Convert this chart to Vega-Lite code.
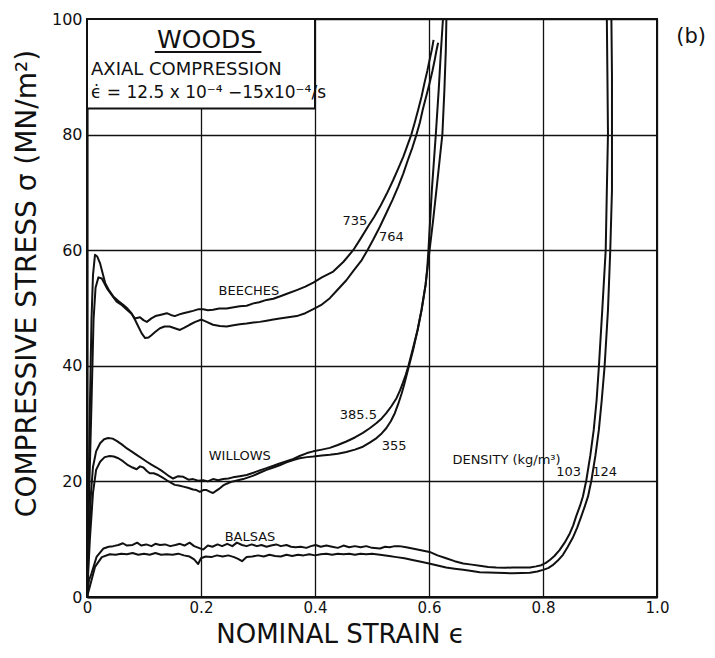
{
 "$schema": "https://vega.github.io/schema/vega-lite/v6.json",
 "width": 570, "height": 578,
 "autosize": "none",
 "padding": {"left": 87, "top": 19, "right": 58, "bottom": 61},
 "background": "white",
 "config": {"view": {"stroke": "#111", "strokeWidth": 2}, "font": "DejaVu Sans"},
 "datasets": {
  "curves": [
   {"s":"b735","x":0,"y":0},{"s":"b735","x":0.0035,"y":16.8},{"s":"b735","x":0.008,"y":34},{"s":"b735","x":0.0115,"y":48},{"s":"b735","x":0.015,"y":53.5},{"s":"b735","x":0.02,"y":55.3},{"s":"b735","x":0.026,"y":55.1},{"s":"b735","x":0.035,"y":53.4},{"s":"b735","x":0.043,"y":52.3},{"s":"b735","x":0.052,"y":51.1},{"s":"b735","x":0.06,"y":50.6},{"s":"b735","x":0.07,"y":49.7},{"s":"b735","x":0.078,"y":49.0},{"s":"b735","x":0.084,"y":48.2},{"s":"b735","x":0.093,"y":48.4},{"s":"b735","x":0.099,"y":47.9},{"s":"b735","x":0.105,"y":47.6},{"s":"b735","x":0.113,"y":48.2},{"s":"b735","x":0.12,"y":48.6},{"s":"b735","x":0.128,"y":48.8},{"s":"b735","x":0.14,"y":49.1},{"s":"b735","x":0.147,"y":48.8},{"s":"b735","x":0.154,"y":48.6},{"s":"b735","x":0.162,"y":48.9},{"s":"b735","x":0.169,"y":49.1},{"s":"b735","x":0.178,"y":49.3},{"s":"b735","x":0.186,"y":49.5},{"s":"b735","x":0.196,"y":49.8},{"s":"b735","x":0.204,"y":49.8},{"s":"b735","x":0.212,"y":49.6},{"s":"b735","x":0.221,"y":49.7},{"s":"b735","x":0.232,"y":49.9},{"s":"b735","x":0.245,"y":49.9},{"s":"b735","x":0.255,"y":50.1},{"s":"b735","x":0.268,"y":50.3},{"s":"b735","x":0.28,"y":50.4},{"s":"b735","x":0.292,"y":50.8},{"s":"b735","x":0.302,"y":51.0},{"s":"b735","x":0.315,"y":51.4},{"s":"b735","x":0.327,"y":51.6},{"s":"b735","x":0.338,"y":52},{"s":"b735","x":0.352,"y":52.5},{"s":"b735","x":0.368,"y":53.1},{"s":"b735","x":0.383,"y":53.7},{"s":"b735","x":0.397,"y":54.4},{"s":"b735","x":0.412,"y":55.3},{"s":"b735","x":0.432,"y":56.3},{"s":"b735","x":0.45,"y":58},{"s":"b735","x":0.467,"y":60},{"s":"b735","x":0.48,"y":62},{"s":"b735","x":0.493,"y":64.1},{"s":"b735","x":0.504,"y":65.8},{"s":"b735","x":0.514,"y":67.5},{"s":"b735","x":0.526,"y":69.8},{"s":"b735","x":0.537,"y":72.1},{"s":"b735","x":0.546,"y":74.1},{"s":"b735","x":0.555,"y":76.2},{"s":"b735","x":0.562,"y":78.1},{"s":"b735","x":0.569,"y":80},{"s":"b735","x":0.575,"y":82.1},{"s":"b735","x":0.581,"y":84.3},{"s":"b735","x":0.587,"y":86.6},{"s":"b735","x":0.592,"y":88.9},{"s":"b735","x":0.597,"y":91},{"s":"b735","x":0.601,"y":92.9},{"s":"b735","x":0.605,"y":94.7},{"s":"b735","x":0.608,"y":96.4},

   {"s":"b764","x":0,"y":0},{"s":"b764","x":0.0026,"y":16.8},{"s":"b764","x":0.0053,"y":34.1},{"s":"b764","x":0.0079,"y":48},{"s":"b764","x":0.0105,"y":55.7},{"s":"b764","x":0.014,"y":59.2},{"s":"b764","x":0.018,"y":58.9},{"s":"b764","x":0.023,"y":57.7},{"s":"b764","x":0.028,"y":55.8},{"s":"b764","x":0.032,"y":54.3},{"s":"b764","x":0.039,"y":53.0},{"s":"b764","x":0.046,"y":52},{"s":"b764","x":0.055,"y":51.2},{"s":"b764","x":0.064,"y":50.5},{"s":"b764","x":0.071,"y":49.9},{"s":"b764","x":0.078,"y":49.1},{"s":"b764","x":0.084,"y":48.0},{"s":"b764","x":0.09,"y":46.8},{"s":"b764","x":0.096,"y":45.6},{"s":"b764","x":0.102,"y":44.8},{"s":"b764","x":0.108,"y":44.9},{"s":"b764","x":0.113,"y":45.3},{"s":"b764","x":0.12,"y":45.9},{"s":"b764","x":0.128,"y":46.5},{"s":"b764","x":0.136,"y":46.8},{"s":"b764","x":0.145,"y":46.8},{"s":"b764","x":0.154,"y":46.5},{"s":"b764","x":0.163,"y":46.2},{"s":"b764","x":0.171,"y":46.6},{"s":"b764","x":0.18,"y":47.1},{"s":"b764","x":0.19,"y":47.6},{"s":"b764","x":0.201,"y":48.0},{"s":"b764","x":0.21,"y":47.6},{"s":"b764","x":0.221,"y":47.1},{"s":"b764","x":0.233,"y":46.9},{"s":"b764","x":0.245,"y":46.8},{"s":"b764","x":0.257,"y":47.0},{"s":"b764","x":0.268,"y":47.2},{"s":"b764","x":0.28,"y":47.3},{"s":"b764","x":0.292,"y":47.5},{"s":"b764","x":0.303,"y":47.6},{"s":"b764","x":0.315,"y":47.8},{"s":"b764","x":0.327,"y":48.0},{"s":"b764","x":0.338,"y":48.2},{"s":"b764","x":0.353,"y":48.4},{"s":"b764","x":0.368,"y":48.6},{"s":"b764","x":0.383,"y":49.1},{"s":"b764","x":0.397,"y":49.8},{"s":"b764","x":0.412,"y":50.6},{"s":"b764","x":0.426,"y":51.7},{"s":"b764","x":0.44,"y":53.2},{"s":"b764","x":0.455,"y":54.8},{"s":"b764","x":0.468,"y":56.5},{"s":"b764","x":0.482,"y":58.3},{"s":"b764","x":0.492,"y":60},{"s":"b764","x":0.502,"y":61.8},{"s":"b764","x":0.514,"y":64.1},{"s":"b764","x":0.525,"y":66.4},{"s":"b764","x":0.536,"y":68.7},{"s":"b764","x":0.546,"y":71.0},{"s":"b764","x":0.555,"y":73.3},{"s":"b764","x":0.563,"y":75.6},{"s":"b764","x":0.571,"y":77.8},{"s":"b764","x":0.578,"y":80},{"s":"b764","x":0.584,"y":82.1},{"s":"b764","x":0.589,"y":84.3},{"s":"b764","x":0.595,"y":86.6},{"s":"b764","x":0.601,"y":88.9},{"s":"b764","x":0.606,"y":91},{"s":"b764","x":0.61,"y":92.9},{"s":"b764","x":0.613,"y":94.5},{"s":"b764","x":0.616,"y":95.9},

   {"s":"w385","x":0,"y":0},{"s":"w385","x":0.0035,"y":9.9},{"s":"w385","x":0.007,"y":18},{"s":"w385","x":0.0105,"y":22.5},{"s":"w385","x":0.016,"y":25.2},{"s":"w385","x":0.023,"y":26.6},{"s":"w385","x":0.03,"y":27.3},{"s":"w385","x":0.037,"y":27.5},{"s":"w385","x":0.045,"y":27.4},{"s":"w385","x":0.052,"y":27.0},{"s":"w385","x":0.061,"y":26.4},{"s":"w385","x":0.07,"y":25.7},{"s":"w385","x":0.078,"y":25.2},{"s":"w385","x":0.087,"y":24.6},{"s":"w385","x":0.096,"y":24.0},{"s":"w385","x":0.105,"y":23.4},{"s":"w385","x":0.113,"y":22.9},{"s":"w385","x":0.122,"y":22.4},{"s":"w385","x":0.13,"y":21.9},{"s":"w385","x":0.137,"y":21.4},{"s":"w385","x":0.144,"y":20.9},{"s":"w385","x":0.151,"y":20.5},{"s":"w385","x":0.16,"y":20.9},{"s":"w385","x":0.169,"y":20.8},{"s":"w385","x":0.178,"y":20.3},{"s":"w385","x":0.186,"y":20.4},{"s":"w385","x":0.195,"y":20.1},{"s":"w385","x":0.204,"y":20.2},{"s":"w385","x":0.212,"y":20.0},{"s":"w385","x":0.221,"y":20.4},{"s":"w385","x":0.23,"y":20.2},{"s":"w385","x":0.239,"y":20.4},{"s":"w385","x":0.248,"y":20.5},{"s":"w385","x":0.256,"y":20.7},{"s":"w385","x":0.268,"y":20.9},{"s":"w385","x":0.28,"y":21.1},{"s":"w385","x":0.292,"y":21.5},{"s":"w385","x":0.303,"y":21.9},{"s":"w385","x":0.315,"y":22.3},{"s":"w385","x":0.327,"y":22.7},{"s":"w385","x":0.338,"y":23.1},{"s":"w385","x":0.35,"y":23.5},{"s":"w385","x":0.362,"y":23.9},{"s":"w385","x":0.373,"y":24.4},{"s":"w385","x":0.386,"y":24.9},{"s":"w385","x":0.397,"y":25.2},{"s":"w385","x":0.412,"y":25.5},{"s":"w385","x":0.426,"y":25.8},{"s":"w385","x":0.44,"y":26.3},{"s":"w385","x":0.455,"y":26.9},{"s":"w385","x":0.47,"y":27.6},{"s":"w385","x":0.484,"y":28.4},{"s":"w385","x":0.496,"y":29.2},{"s":"w385","x":0.508,"y":30.1},{"s":"w385","x":0.517,"y":30.9},{"s":"w385","x":0.525,"y":31.8},{"s":"w385","x":0.534,"y":33},{"s":"w385","x":0.543,"y":34.4},{"s":"w385","x":0.549,"y":35.7},{"s":"w385","x":0.554,"y":37},{"s":"w385","x":0.559,"y":38.4},{"s":"w385","x":0.564,"y":40.0},{"s":"w385","x":0.571,"y":42.7},{"s":"w385","x":0.58,"y":46.2},{"s":"w385","x":0.587,"y":49.7},{"s":"w385","x":0.594,"y":54},{"s":"w385","x":0.597,"y":57},{"s":"w385","x":0.599,"y":60},{"s":"w385","x":0.605,"y":70.4},{"s":"w385","x":0.612,"y":80.1},{"s":"w385","x":0.617,"y":87.7},{"s":"w385","x":0.621,"y":94.6},{"s":"w385","x":0.6245,"y":100},

   {"s":"w355","x":0,"y":0},{"s":"w355","x":0.005,"y":9.9},{"s":"w355","x":0.0105,"y":18},{"s":"w355","x":0.016,"y":22},{"s":"w355","x":0.023,"y":23.4},{"s":"w355","x":0.031,"y":24.2},{"s":"w355","x":0.04,"y":24.4},{"s":"w355","x":0.047,"y":24.3},{"s":"w355","x":0.055,"y":24.0},{"s":"w355","x":0.063,"y":23.5},{"s":"w355","x":0.072,"y":22.8},{"s":"w355","x":0.08,"y":22.4},{"s":"w355","x":0.087,"y":22.1},{"s":"w355","x":0.093,"y":22.6},{"s":"w355","x":0.099,"y":22.4},{"s":"w355","x":0.105,"y":21.8},{"s":"w355","x":0.11,"y":21.4},{"s":"w355","x":0.117,"y":21.4},{"s":"w355","x":0.125,"y":21.1},{"s":"w355","x":0.132,"y":20.7},{"s":"w355","x":0.14,"y":20.2},{"s":"w355","x":0.147,"y":19.8},{"s":"w355","x":0.154,"y":19.4},{"s":"w355","x":0.161,"y":19.3},{"s":"w355","x":0.169,"y":19.1},{"s":"w355","x":0.177,"y":18.9},{"s":"w355","x":0.186,"y":18.6},{"s":"w355","x":0.192,"y":18.5},{"s":"w355","x":0.198,"y":18.2},{"s":"w355","x":0.204,"y":18.5},{"s":"w355","x":0.21,"y":18.5},{"s":"w355","x":0.216,"y":18.2},{"s":"w355","x":0.221,"y":18.0},{"s":"w355","x":0.227,"y":18.4},{"s":"w355","x":0.233,"y":18.8},{"s":"w355","x":0.239,"y":19.3},{"s":"w355","x":0.245,"y":19.6},{"s":"w355","x":0.25,"y":19.8},{"s":"w355","x":0.256,"y":20.0},{"s":"w355","x":0.265,"y":20.2},{"s":"w355","x":0.274,"y":20.4},{"s":"w355","x":0.283,"y":20.7},{"s":"w355","x":0.292,"y":21.0},{"s":"w355","x":0.303,"y":21.5},{"s":"w355","x":0.315,"y":22.0},{"s":"w355","x":0.327,"y":22.4},{"s":"w355","x":0.338,"y":22.8},{"s":"w355","x":0.35,"y":23.3},{"s":"w355","x":0.362,"y":23.7},{"s":"w355","x":0.373,"y":24.0},{"s":"w355","x":0.386,"y":24.2},{"s":"w355","x":0.397,"y":24.3},{"s":"w355","x":0.412,"y":24.5},{"s":"w355","x":0.426,"y":24.6},{"s":"w355","x":0.44,"y":24.8},{"s":"w355","x":0.455,"y":25.1},{"s":"w355","x":0.47,"y":25.5},{"s":"w355","x":0.484,"y":26.0},{"s":"w355","x":0.496,"y":26.7},{"s":"w355","x":0.508,"y":27.5},{"s":"w355","x":0.517,"y":28.3},{"s":"w355","x":0.525,"y":29.2},{"s":"w355","x":0.533,"y":30.4},{"s":"w355","x":0.54,"y":31.8},{"s":"w355","x":0.546,"y":33.4},{"s":"w355","x":0.552,"y":35.2},{"s":"w355","x":0.556,"y":36.6},{"s":"w355","x":0.56,"y":38.1},{"s":"w355","x":0.566,"y":40.4},{"s":"w355","x":0.572,"y":42.7},{"s":"w355","x":0.58,"y":46.2},{"s":"w355","x":0.587,"y":49.7},{"s":"w355","x":0.594,"y":54},{"s":"w355","x":0.601,"y":60},{"s":"w355","x":0.607,"y":65},{"s":"w355","x":0.613,"y":70.4},{"s":"w355","x":0.618,"y":75},{"s":"w355","x":0.6235,"y":80.1},{"s":"w355","x":0.627,"y":87.7},{"s":"w355","x":0.6295,"y":94.6},{"s":"w355","x":0.6305,"y":100},

   {"s":"a103","x":0,"y":0},{"s":"a103","x":0.0035,"y":2.9},{"s":"a103","x":0.008,"y":4.1},{"s":"a103","x":0.017,"y":7.0},{"s":"a103","x":0.029,"y":8.4},{"s":"a103","x":0.038,"y":8.7},{"s":"a103","x":0.046,"y":8.8},{"s":"a103","x":0.055,"y":9.0},{"s":"a103","x":0.063,"y":9.3},{"s":"a103","x":0.07,"y":8.9},{"s":"a103","x":0.08,"y":9.0},{"s":"a103","x":0.088,"y":9.4},{"s":"a103","x":0.095,"y":8.9},{"s":"a103","x":0.104,"y":9.1},{"s":"a103","x":0.113,"y":8.8},{"s":"a103","x":0.12,"y":9.2},{"s":"a103","x":0.128,"y":9.0},{"s":"a103","x":0.137,"y":9.1},{"s":"a103","x":0.146,"y":8.8},{"s":"a103","x":0.155,"y":9.0},{"s":"a103","x":0.163,"y":9.2},{"s":"a103","x":0.171,"y":8.9},{"s":"a103","x":0.18,"y":9.4},{"s":"a103","x":0.188,"y":8.8},{"s":"a103","x":0.196,"y":8.5},{"s":"a103","x":0.204,"y":8.2},{"s":"a103","x":0.212,"y":8.9},{"s":"a103","x":0.22,"y":8.7},{"s":"a103","x":0.229,"y":9.1},{"s":"a103","x":0.237,"y":8.8},{"s":"a103","x":0.246,"y":9.2},{"s":"a103","x":0.255,"y":8.8},{"s":"a103","x":0.263,"y":9.4},{"s":"a103","x":0.272,"y":9.0},{"s":"a103","x":0.28,"y":8.8},{"s":"a103","x":0.289,"y":9.1},{"s":"a103","x":0.298,"y":8.8},{"s":"a103","x":0.306,"y":9.0},{"s":"a103","x":0.315,"y":8.7},{"s":"a103","x":0.323,"y":8.9},{"s":"a103","x":0.332,"y":9.1},{"s":"a103","x":0.34,"y":8.8},{"s":"a103","x":0.35,"y":9.0},{"s":"a103","x":0.358,"y":8.7},{"s":"a103","x":0.366,"y":8.6},{"s":"a103","x":0.375,"y":8.7},{"s":"a103","x":0.385,"y":8.5},{"s":"a103","x":0.393,"y":8.8},{"s":"a103","x":0.401,"y":9.0},{"s":"a103","x":0.41,"y":8.7},{"s":"a103","x":0.42,"y":8.9},{"s":"a103","x":0.43,"y":8.7},{"s":"a103","x":0.44,"y":8.5},{"s":"a103","x":0.45,"y":8.9},{"s":"a103","x":0.46,"y":8.6},{"s":"a103","x":0.47,"y":8.8},{"s":"a103","x":0.48,"y":8.6},{"s":"a103","x":0.49,"y":8.8},{"s":"a103","x":0.5,"y":8.5},{"s":"a103","x":0.514,"y":8.4},{"s":"a103","x":0.523,"y":8.7},{"s":"a103","x":0.531,"y":8.6},{"s":"a103","x":0.54,"y":8.8},{"s":"a103","x":0.548,"y":8.8},{"s":"a103","x":0.56,"y":8.6},{"s":"a103","x":0.571,"y":8.4},{"s":"a103","x":0.586,"y":8.1},{"s":"a103","x":0.601,"y":7.8},{"s":"a103","x":0.615,"y":7.2},{"s":"a103","x":0.63,"y":6.7},{"s":"a103","x":0.645,"y":6.2},{"s":"a103","x":0.66,"y":5.8},{"s":"a103","x":0.675,"y":5.6},{"s":"a103","x":0.689,"y":5.4},{"s":"a103","x":0.704,"y":5.2},{"s":"a103","x":0.718,"y":5.1},{"s":"a103","x":0.733,"y":5.05},{"s":"a103","x":0.747,"y":5.1},{"s":"a103","x":0.762,"y":5.1},{"s":"a103","x":0.777,"y":5.1},{"s":"a103","x":0.788,"y":5.3},{"s":"a103","x":0.797,"y":5.5},{"s":"a103","x":0.805,"y":5.9},{"s":"a103","x":0.812,"y":6.4},{"s":"a103","x":0.82,"y":7.1},{"s":"a103","x":0.829,"y":8.1},{"s":"a103","x":0.838,"y":9.4},{"s":"a103","x":0.847,"y":11},{"s":"a103","x":0.853,"y":12.4},{"s":"a103","x":0.858,"y":13.9},{"s":"a103","x":0.865,"y":15.8},{"s":"a103","x":0.87,"y":17.4},{"s":"a103","x":0.876,"y":20.2},{"s":"a103","x":0.883,"y":24.5},{"s":"a103","x":0.889,"y":28.9},{"s":"a103","x":0.894,"y":34},{"s":"a103","x":0.898,"y":39.8},{"s":"a103","x":0.904,"y":49.7},{"s":"a103","x":0.91,"y":60},{"s":"a103","x":0.912,"y":70.4},{"s":"a103","x":0.914,"y":80.1},{"s":"a103","x":0.913,"y":90.3},{"s":"a103","x":0.912,"y":100},

   {"s":"a124","x":0,"y":0},{"s":"a124","x":0.005,"y":1.8},{"s":"a124","x":0.014,"y":5.2},{"s":"a124","x":0.026,"y":6.9},{"s":"a124","x":0.04,"y":7.4},{"s":"a124","x":0.05,"y":7.3},{"s":"a124","x":0.06,"y":7.5},{"s":"a124","x":0.07,"y":7.4},{"s":"a124","x":0.08,"y":7.6},{"s":"a124","x":0.09,"y":7.3},{"s":"a124","x":0.1,"y":7.5},{"s":"a124","x":0.11,"y":7.3},{"s":"a124","x":0.12,"y":7.6},{"s":"a124","x":0.13,"y":7.3},{"s":"a124","x":0.14,"y":7.4},{"s":"a124","x":0.15,"y":7.3},{"s":"a124","x":0.16,"y":7.5},{"s":"a124","x":0.17,"y":7.2},{"s":"a124","x":0.18,"y":7.0},{"s":"a124","x":0.188,"y":6.5},{"s":"a124","x":0.195,"y":5.7},{"s":"a124","x":0.2,"y":6.7},{"s":"a124","x":0.208,"y":7.0},{"s":"a124","x":0.218,"y":6.9},{"s":"a124","x":0.228,"y":7.2},{"s":"a124","x":0.238,"y":7.0},{"s":"a124","x":0.248,"y":7.2},{"s":"a124","x":0.258,"y":6.9},{"s":"a124","x":0.265,"y":6.6},{"s":"a124","x":0.272,"y":6.2},{"s":"a124","x":0.28,"y":6.9},{"s":"a124","x":0.29,"y":7.0},{"s":"a124","x":0.3,"y":7.2},{"s":"a124","x":0.31,"y":7.0},{"s":"a124","x":0.32,"y":7.3},{"s":"a124","x":0.33,"y":7.1},{"s":"a124","x":0.34,"y":7.0},{"s":"a124","x":0.35,"y":7.3},{"s":"a124","x":0.36,"y":7.1},{"s":"a124","x":0.37,"y":7.3},{"s":"a124","x":0.38,"y":7.2},{"s":"a124","x":0.39,"y":7.4},{"s":"a124","x":0.4,"y":7.2},{"s":"a124","x":0.41,"y":7.4},{"s":"a124","x":0.42,"y":7.5},{"s":"a124","x":0.43,"y":7.3},{"s":"a124","x":0.44,"y":7.5},{"s":"a124","x":0.45,"y":7.4},{"s":"a124","x":0.46,"y":7.5},{"s":"a124","x":0.47,"y":7.3},{"s":"a124","x":0.48,"y":7.5},{"s":"a124","x":0.49,"y":7.4},{"s":"a124","x":0.5,"y":7.5},{"s":"a124","x":0.514,"y":7.3},{"s":"a124","x":0.53,"y":7.1},{"s":"a124","x":0.543,"y":6.9},{"s":"a124","x":0.557,"y":6.7},{"s":"a124","x":0.571,"y":6.4},{"s":"a124","x":0.586,"y":6.1},{"s":"a124","x":0.6,"y":5.8},{"s":"a124","x":0.615,"y":5.45},{"s":"a124","x":0.63,"y":5.1},{"s":"a124","x":0.645,"y":4.9},{"s":"a124","x":0.66,"y":4.7},{"s":"a124","x":0.675,"y":4.5},{"s":"a124","x":0.689,"y":4.3},{"s":"a124","x":0.704,"y":4.25},{"s":"a124","x":0.718,"y":4.2},{"s":"a124","x":0.733,"y":4.15},{"s":"a124","x":0.747,"y":4.1},{"s":"a124","x":0.762,"y":4.15},{"s":"a124","x":0.777,"y":4.2},{"s":"a124","x":0.79,"y":4.4},{"s":"a124","x":0.8,"y":4.7},{"s":"a124","x":0.809,"y":5.0},{"s":"a124","x":0.817,"y":5.5},{"s":"a124","x":0.826,"y":6.3},{"s":"a124","x":0.835,"y":7.3},{"s":"a124","x":0.843,"y":8.6},{"s":"a124","x":0.852,"y":10.2},{"s":"a124","x":0.86,"y":12},{"s":"a124","x":0.867,"y":13.9},{"s":"a124","x":0.873,"y":15.6},{"s":"a124","x":0.879,"y":17.4},{"s":"a124","x":0.885,"y":20.2},{"s":"a124","x":0.892,"y":24.5},{"s":"a124","x":0.898,"y":28.9},{"s":"a124","x":0.903,"y":34},{"s":"a124","x":0.908,"y":39.8},{"s":"a124","x":0.914,"y":49.7},{"s":"a124","x":0.918,"y":60},{"s":"a124","x":0.921,"y":70.4},{"s":"a124","x":0.921,"y":80.1},{"s":"a124","x":0.921,"y":90.3},{"s":"a124","x":0.92,"y":100}
  ],
  "labels": [
   {"t":"BEECHES","x":0.284,"y":52.9},
   {"t":"WILLOWS","x":0.268,"y":24.4},
   {"t":"BALSAS","x":0.286,"y":10.4},
   {"t":"735","x":0.47,"y":65.05},
   {"t":"764","x":0.534,"y":62.2},
   {"t":"385.5","x":0.476,"y":31.5},
   {"t":"355","x":0.539,"y":26.2},
   {"t":"DENSITY (kg/m³)","x":0.736,"y":23.7},
   {"t":"103","x":0.845,"y":21.7},
   {"t":"124","x":0.908,"y":21.7}
  ]
 },
 "encoding": {
  "x": {"field": "x", "type": "quantitative", "scale": {"domain": [0, 1], "nice": false, "zero": false},
   "axis": {"values": [0, 0.2, 0.4, 0.6, 0.8, 1], "labelExpr": "datum.value == 0 ? '0' : format(datum.value, '.1f')",
    "grid": true, "ticks": false, "domainColor": "#111", "domainWidth": 2, "gridColor": "#111", "gridWidth": 1.3, "gridOpacity": 1,
    "labelFontSize": 15, "labelColor": "#111", "labelPadding": 3, "labelFlush": false,
    "title": "NOMINAL STRAIN ϵ", "titleFontSize": 26, "titleFontWeight": "normal", "titleColor": "#111",
    "titleX": 253, "titleY": 24, "titleBaseline": "top", "titleAlign": "center"}},
  "y": {"field": "y", "type": "quantitative", "scale": {"domain": [0, 100], "nice": false},
   "axis": {"values": [0, 20, 40, 60, 80, 100],
    "grid": true, "ticks": false, "domainColor": "#111", "domainWidth": 2, "gridColor": "#111", "gridWidth": 1.3, "gridOpacity": 1,
    "labelFontSize": 16, "labelColor": "#111", "labelPadding": 5,
    "title": "COMPRESSIVE STRESS σ (MN/m²)", "titleFontSize": 28, "titleFontWeight": "normal", "titleColor": "#111",
    "titleX": -60, "titleY": 264, "titleAngle": -90, "titleBaseline": "middle", "titleAlign": "center"}}
 },
 "layer": [
  {"data": {"name": "curves"},
   "mark": {"type": "line", "color": "#111", "strokeWidth": 2, "strokeJoin": "round"},
   "encoding": {"detail": {"field": "s"}, "order": {"value": null}}},
  {"data": {"values": [{"x": 0, "x2": 0.4, "y": 84.5, "y2": 100}]},
   "mark": {"type": "rect", "fill": "white", "stroke": "#111", "strokeWidth": 2},
   "encoding": {"x2": {"field": "x2"}, "y2": {"field": "y2"}}},
  {"data": {"values": [{"x": 0.119, "x2": 0.306, "y": 94.3}]},
   "mark": {"type": "rule", "color": "#111", "strokeWidth": 2},
   "encoding": {"x2": {"field": "x2"}}},
  {"data": {"values": [{"t": "WOODS", "x": 0.2098, "y": 94.9}]},
   "mark": {"type": "text", "fontSize": 25, "align": "center", "baseline": "alphabetic", "color": "#111"},
   "encoding": {"text": {"field": "t"}}},
  {"data": {"values": [{"t": "AXIAL COMPRESSION", "x": 0.007, "y": 90.3}]},
   "mark": {"type": "text", "fontSize": 18, "align": "left", "baseline": "alphabetic", "color": "#111"},
   "encoding": {"text": {"field": "t"}}},
  {"data": {"values": [{"t": "ϵ̇ = 12.5 x 10⁻⁴ −15x10⁻⁴/s", "x": 0.007, "y": 86.3}]},
   "mark": {"type": "text", "fontSize": 17, "align": "left", "baseline": "alphabetic", "color": "#111"},
   "encoding": {"text": {"field": "t"}}},
  {"data": {"name": "labels"},
   "mark": {"type": "text", "fontSize": 13, "align": "center", "baseline": "middle", "color": "#111"},
   "encoding": {"text": {"field": "t"}}},
  {"data": {"values": [{"t": "(b)", "x": 1.06, "y": 96.9}]},
   "mark": {"type": "text", "fontSize": 21, "align": "center", "baseline": "middle", "color": "#111"},
   "encoding": {"text": {"field": "t"}}}
 ]
}
